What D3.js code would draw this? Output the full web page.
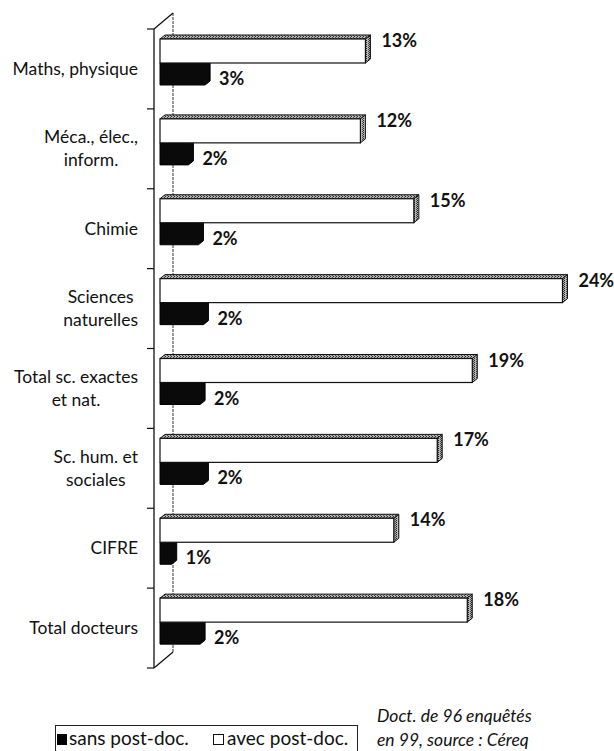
<!DOCTYPE html>
<html><head><meta charset="utf-8">
<script src="https://cdn.jsdelivr.net/npm/d3@7"></script>
<style>
html,body{margin:0;padding:0;background:#fff;}
svg{display:block;}
</style></head>
<body>
<svg id="chart" width="614" height="751"></svg>
<script>
// ---- data ----
const categories = ["Maths, physique", "Méca., élec.,\ninform.", "Chimie", "Sciences\nnaturelles",
  "Total sc. exactes\net nat.", "Sc. hum. et\nsociales", "CIFRE", "Total docteurs"];
const avecPostDoc = [12.3, 12.0, 15.2, 24.1, 18.7, 16.6, 14.0, 18.4];
const sansPostDoc = [2.7, 1.7, 2.3, 2.6, 2.4, 2.6, 0.7, 2.4];
const avecLabels = ["13%", "12%", "15%", "24%", "19%", "17%", "14%", "18%"];
const sansLabels = ["3%", "2%", "2%", "2%", "2%", "2%", "1%", "2%"];
const legendLabels = ["sans post-doc.", "avec post-doc."];
const noteLines = ["Doct. de 96 enquêtés", "en 99, source : Céreq"];

// ---- layout ----
const svg = d3.select("#chart");
const x = d3.scaleLinear().domain([0, 25]).range([160, 160 + 25 * 16.7]);
const y = d3.scaleBand().domain(categories).range([29, 668]).padding(0);
const DX = 5, DY = 4;
const axisX = 154, wallDX = 19, wallDY = 16;

const defs = svg.append("defs");
const pat = defs.append("pattern").attr("id", "stip").attr("width", 3).attr("height", 2)
  .attr("patternUnits", "userSpaceOnUse");
pat.append("rect").attr("width", 3).attr("height", 2).attr("fill", "#b5b5b5");
pat.append("rect").attr("x", 0).attr("y", 0).attr("width", 1).attr("height", 1).attr("fill", "#222");
pat.append("rect").attr("x", 2).attr("y", 1).attr("width", 1).attr("height", 1).attr("fill", "#444");

// back wall
const [y0, y1] = y.range();
const wall = svg.append("g");
wall.append("line").attr("x1", axisX + wallDX).attr("y1", y0 - wallDY)
  .attr("x2", axisX + wallDX).attr("y2", y1 - wallDY)
  .attr("stroke", "#333").attr("stroke-width", 1).attr("stroke-dasharray", "3,1");
wall.append("line").attr("x1", axisX).attr("y1", y0).attr("x2", axisX + wallDX).attr("y2", y0 - wallDY)
  .attr("stroke", "#111").attr("stroke-width", 1.2);
wall.append("line").attr("x1", axisX).attr("y1", y1).attr("x2", axisX + wallDX).attr("y2", y1 - wallDY)
  .attr("stroke", "#111").attr("stroke-width", 1.2);
// front axis
wall.append("line").attr("x1", axisX).attr("y1", y0).attr("x2", axisX).attr("y2", y1)
  .attr("stroke", "#111").attr("stroke-width", 1.3);
const bounds = categories.map(c => y(c)).concat([y1]);
wall.selectAll("line.tick").data(bounds).join("line").attr("class", "tick")
  .attr("x1", axisX - 7).attr("x2", axisX).attr("y1", d => d).attr("y2", d => d)
  .attr("stroke", "#111").attr("stroke-width", 1.2);

// bars
const WH = 24, BH = 22;
const bars = svg.append("g");
categories.forEach((c, i) => {
  const top = y(c) + 10;
  const xs = x(0);
  // black bar (sans)
  const xb = x(sansPostDoc[i]);
  const by = top + WH;
  bars.append("path")
    .attr("d", `M${xs},${by}H${xb}L${xb + DX},${by - DY}V${by + BH - DY}L${xb},${by + BH}H${xs}Z`)
    .attr("fill", "#0a0a0a").attr("stroke", "#000").attr("stroke-width", 1);
  // white bar (avec)
  const xw = x(avecPostDoc[i]);
  bars.append("path")
    .attr("d", `M${xs},${top}L${xs + DX},${top - DY}H${xw + DX}L${xw},${top}Z`)
    .attr("fill", "url(#stip)").attr("stroke", "#111").attr("stroke-width", 1);
  bars.append("path")
    .attr("d", `M${xw},${top}L${xw + DX},${top - DY}V${top + WH - DY}L${xw},${top + WH}Z`)
    .attr("fill", "url(#stip)").attr("stroke", "#111").attr("stroke-width", 1);
  bars.append("rect").attr("x", xs).attr("y", top).attr("width", xw - xs).attr("height", WH)
    .attr("fill", "#fff").attr("stroke", "#111").attr("stroke-width", 1.2);
  // value labels
  bars.append("text").attr("x", xw + DX + 11).attr("y", top + 8)
    .attr("font-family", "Lato, sans-serif").attr("font-weight", "bold").attr("font-size", 18)
    .attr("fill", "#111").text(avecLabels[i]);
  bars.append("text").attr("x", xb + DX + 9).attr("y", by + BH)
    .attr("font-family", "Lato, sans-serif").attr("font-weight", "bold").attr("font-size", 18)
    .attr("fill", "#111").text(sansLabels[i]);
});

// category labels
const labG = svg.append("g").attr("font-family", "Lato, sans-serif").attr("font-size", 17.5).attr("fill", "#111");
const blockRight = 138, lineH = 23;
categories.forEach(c => {
  const lines = c.split("\n");
  const cy = y(c) + y.bandwidth() / 2;
  const t = labG.append("text").attr("text-anchor", "middle");
  lines.forEach((l, j) => {
    t.append("tspan").attr("y", cy + (j - (lines.length - 1) / 2) * lineH + 6).text(l);
  });
  let maxW = 0;
  t.selectAll("tspan").each(function () { maxW = Math.max(maxW, this.getComputedTextLength()); });
  t.selectAll("tspan").attr("x", blockRight - maxW / 2);
});

// legend
const lg = svg.append("g");
lg.append("rect").attr("x", 55.5).attr("y", 725.5).attr("width", 302).attr("height", 40)
  .attr("fill", "none").attr("stroke", "#222").attr("stroke-width", 1);
lg.append("rect").attr("x", 57).attr("y", 734).attr("width", 10).attr("height", 11).attr("fill", "#000");
lg.append("text").attr("x", 69).attr("y", 745).attr("font-family", "Lato, sans-serif").attr("font-size", 19)
  .attr("fill", "#111").text(legendLabels[0]);
lg.append("rect").attr("x", 213.5).attr("y", 734.5).attr("width", 10).attr("height", 10)
  .attr("fill", "#fff").attr("stroke", "#111").attr("stroke-width", 1);
lg.append("text").attr("x", 227).attr("y", 745).attr("font-family", "Lato, sans-serif").attr("font-size", 19)
  .attr("fill", "#111").text(legendLabels[1]);

// note
svg.append("g").selectAll("text").data(noteLines).join("text")
  .attr("x", 377).attr("y", (d, i) => 722 + i * 24)
  .attr("font-family", "Lato, sans-serif").attr("font-style", "italic").attr("font-size", 17.5)
  .attr("fill", "#111").text(d => d);
</script>
</body></html>
